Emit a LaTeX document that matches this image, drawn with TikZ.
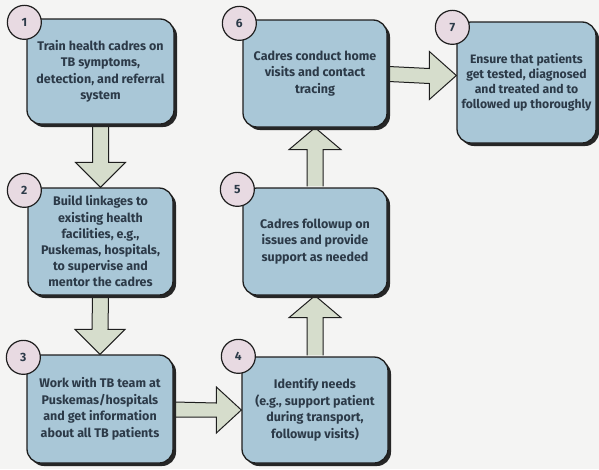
\documentclass[tikz,border=0pt]{standalone}
\usepackage{fontspec}
\setmainfont{Fira Sans}
\usetikzlibrary{calc,shadows}
\definecolor{bg}{HTML}{F4F4F3}
\definecolor{boxfill}{HTML}{A9C7D7}
\definecolor{arrfill}{HTML}{D6DDCC}
\definecolor{numfill}{HTML}{E8DAE2}
\definecolor{txt}{HTML}{2C3A48}
\definecolor{edge}{HTML}{1E1E1E}
\pgfdeclarelayer{bglayer}
\pgfdeclarelayer{arrlayer}
\pgfsetlayers{bglayer,arrlayer,main}
\begin{document}
\begin{tikzpicture}[x=1pt,y=-1pt,
  stepbox/.style={draw=edge, line width=1.3pt, fill=boxfill, rounded corners=14pt,
    text=txt, font=\bfseries\fontsize{12.5}{16.5}\selectfont, align=center, inner sep=0pt,
    general shadow={fill=black!85, shadow xshift=3pt, shadow yshift=-3pt}},
  numdot/.style={circle, draw=edge, line width=1.2pt, fill=numfill, minimum size=34pt,
    inner sep=0pt, text=txt, font=\bfseries\fontsize{12}{12}\selectfont},
  blockarrow/.style={draw=edge, line width=1pt, fill=arrfill, line join=miter}]
\begin{pgfonlayer}{bglayer}
\fill[bg] (0,0) rectangle (599,469);
\end{pgfonlayer}
\useasboundingbox (0,0) rectangle (599,469);

\node[stepbox, minimum width=147pt, minimum height=105pt] (b1) at (100.5,71.5)
  {Train health cadres on\\TB symptoms,\\detection, and referral\\system};
\node[stepbox, minimum width=145pt, minimum height=107pt, font=\bfseries\fontsize{12.5}{16.2}\selectfont] (b2) at (100.5,241.5)
  {Build linkages to\\existing health\\facilities, e.g.,\\Puskemas, hospitals,\\to supervise and\\mentor the cadres};
\node[stepbox, minimum width=146pt, minimum height=108pt] (b3) at (100,409)
  {Work with TB team at\\Puskemas/hospitals\\and get information\\about all TB patients};
\node[stepbox, minimum width=146pt, minimum height=106pt] (b4) at (315,410)
  {Identify needs\\(e.g., support patient\\during transport,\\followup visits)};
\node[stepbox, minimum width=144pt, minimum height=107pt] (b5) at (315,241.5)
  {Cadres followup on\\issues and provide\\support as needed};
\node[stepbox, minimum width=144pt, minimum height=107pt] (b6) at (315,73.5)
  {Cadres conduct home\\visits and contact\\tracing};
\node[stepbox, minimum width=139pt, minimum height=121pt, font=\bfseries\fontsize{12.2}{15}\selectfont] (b7) at (526.5,82.5)
  {Ensure that patients\\get tested, diagnosed\\and treated and to\\followed up thoroughly};

% block arrows (behind boxes)
\begin{pgfonlayer}{arrlayer}
\draw[blockarrow] ($(b1.south)+(-8,1)$) -- ($(b2.north)+(-8,-25)$) -- ($(b2.north)+(-25,-25)$)
  -- (b2.north) -- ($(b2.north)+(25,-25)$) -- ($(b2.north)+(8,-25)$) -- ($(b1.south)+(8,1)$);
\draw[blockarrow] ($(b2.south)+(-8,1)$) -- ($(b3.north)+(-8,-25)$) -- ($(b3.north)+(-25,-25)$)
  -- (b3.north) -- ($(b3.north)+(25,-25)$) -- ($(b3.north)+(8,-25)$) -- ($(b2.south)+(8,1)$);
\coordinate (t34) at ($(b3.east -| b4.west)+(0,1)$);
\draw[blockarrow] ($(b3.east)+(1,-7)$) -- ($(t34)+(-25,-7)$) -- ($(t34)+(-25,-23)$)
  -- (t34) -- ($(t34)+(-25,23)$) -- ($(t34)+(-25,7)$) -- ($(b3.east)+(1,8)$);
\draw[blockarrow] ($(b4.north)+(-8,-1)$) -- ($(b5.south)+(-8,22)$) -- ($(b5.south)+(-26,22)$)
  -- (b5.south) -- ($(b5.south)+(26,22)$) -- ($(b5.south)+(8,22)$) -- ($(b4.north)+(8,-1)$);
\draw[blockarrow] ($(b5.north)+(-8,-1)$) -- ($(b6.south)+(-8,22)$) -- ($(b6.south)+(-26,22)$)
  -- (b6.south) -- ($(b6.south)+(26,22)$) -- ($(b6.south)+(8,22)$) -- ($(b5.north)+(8,-1)$);
\coordinate (t67) at ($(b6.east -| b7.west)+(0,2)$);
\draw[blockarrow] ($(b6.east)+(1,-7)$) -- ($(t67)+(-27,-7)$) -- ($(t67)+(-27,-24)$)
  -- (t67) -- ($(t67)+(-27,24)$) -- ($(t67)+(-27,8)$) -- ($(b6.east)+(1,8)$);
\end{pgfonlayer}

% number badges
\node[numdot] (n1) at ($(b1.north west)+(-2,4)$) {1};
\node[numdot] (n2) at ($(b2.north west)+(-3,3)$) {2};
\node[numdot] (n3) at ($(b3.north west)+(-3,3)$) {3};
\node[numdot] (n4) at ($(b4.north west)+(-3,0)$) {4};
\node[numdot] (n5) at ($(b5.north west)+(-5,2)$) {5};
\node[numdot] (n6) at ($(b6.north west)+(-3,4)$) {6};
\node[numdot] (n7) at ($(b7.north west)+(-4,6)$) {7};
\end{tikzpicture}
\end{document}
